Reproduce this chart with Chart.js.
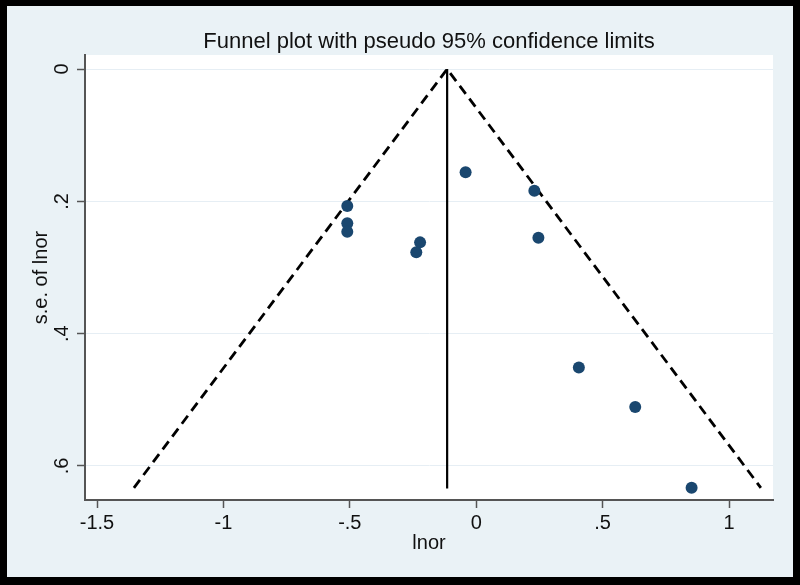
<!DOCTYPE html>
<html>
<head>
<meta charset="utf-8">
<script src="https://cdn.jsdelivr.net/npm/chart.js@4"></script>
<style>
  html, body { margin: 0; padding: 0; background: #000; }
  canvas { display: block; }
</style>
</head>
<body>
<canvas id="c" width="800" height="585"></canvas>
<script>
// ---- data ----
const chartTitle = "Funnel plot with pseudo 95% confidence limits";
const xTitle = "lnor";
const yTitle = "s.e. of lnor";

const lnor   = [-0.042, 0.230, 0.246, -0.510, -0.510, -0.510, -0.222, -0.237, 0.406, 0.629, 0.852];
const seLnor = [ 0.156, 0.184, 0.255,  0.207,  0.233,  0.246,  0.262,  0.277, 0.451, 0.511, 0.633];

// pseudo 95% confidence limits (left end, apex, right end)
const limitX = [-1.354, -0.115, 1.126];
const limitY = [ 0.633,  0.000, 0.633];

// pooled estimate line
const centerX = [-0.115, -0.115];
const centerY = [ 0.000,  0.634];

const xTicks = [-1.5, -1, -0.5, 0, 0.5, 1];
const xTickLabels = ["-1.5", "-1", "-.5", "0", ".5", "1"];
const yTicks = [0, 0.2, 0.4, 0.6];
const yTickLabels = ["0", ".2", ".4", ".6"];

const toPts = (xs, ys) => xs.map((x, i) => ({ x: x, y: ys[i] }));

const FONT = "'Liberation Sans', Arial, Helvetica, sans-serif";

const bgPlugin = {
  id: 'bg',
  beforeDraw(chart) {
    const ctx = chart.ctx;
    const a = chart.chartArea;
    ctx.save();
    ctx.fillStyle = '#000000';
    ctx.fillRect(0, 0, chart.width, chart.height);
    ctx.fillStyle = '#eaf2f6';
    ctx.fillRect(7, 6, 786, 571);
    ctx.fillStyle = '#ffffff';
    ctx.fillRect(a.left, a.top, a.right - a.left, a.bottom - a.top);
    ctx.restore();
  },
  afterDraw(chart) {
    const ctx = chart.ctx;
    const a = chart.chartArea;
    ctx.save();
    ctx.fillStyle = '#111111';
    ctx.font = "22px " + FONT;
    ctx.textAlign = 'center';
    ctx.textBaseline = 'middle';
    ctx.fillText(chartTitle, (a.left + a.right) / 2, 42);
    ctx.restore();
  }
};

new Chart(document.getElementById('c'), {
  type: 'scatter',
  data: {
    datasets: [
      {
        data: toPts(lnor, seLnor),
        showLine: false,
        pointRadius: 6,
        pointHoverRadius: 6,
        pointBackgroundColor: '#1a476f',
        pointBorderWidth: 0,
        order: 0
      },
      {
        data: toPts(limitX, limitY),
        showLine: true,
        borderColor: '#000000',
        borderWidth: 2.8,
        borderDash: [10, 6],
        pointRadius: 0,
        fill: false,
        order: 1
      },
      {
        data: toPts(centerX, centerY),
        showLine: true,
        borderColor: '#000000',
        borderWidth: 2.2,
        pointRadius: 0,
        fill: false,
        order: 1
      }
    ]
  },
  options: {
    responsive: false,
    animation: false,
    layout: { padding: { top: 55, left: 7, right: 27, bottom: 8 } },
    plugins: {
      legend: { display: false },
      tooltip: { enabled: false },
      title: { display: false }
    },
    scales: {
      x: {
        type: 'linear',
        min: -1.5475,
        max: 1.174,
        afterFit(axis) { axis.height = 77; },
        afterBuildTicks(axis) { axis.ticks = xTicks.map(v => ({ value: v })); },
        ticks: {
          autoSkip: false,
          maxRotation: 0,
          color: '#111111',
          font: { family: FONT, size: 20 },
          padding: 3,
          callback: (v, i) => xTickLabels[i]
        },
        grid: {
          drawOnChartArea: false,
          drawTicks: true,
          tickLength: 8,
          tickColor: '#555555',
          tickWidth: 1.5
        },
        border: { display: true, color: '#555555', width: 2 },
        title: {
          display: true,
          text: xTitle,
          color: '#111111',
          font: { family: FONT, size: 20 },
          padding: { top: 0, bottom: 22 }
        }
      },
      y: {
        type: 'linear',
        reverse: true,
        min: -0.0212,
        max: 0.6514,
        afterFit(axis) { axis.width = 78; },
        afterBuildTicks(axis) { axis.ticks = yTicks.map(v => ({ value: v })); },
        ticks: {
          autoSkip: false,
          minRotation: 90,
          maxRotation: 90,
          crossAlign: 'center',
          color: '#111111',
          font: { family: FONT, size: 20 },
          padding: 6,
          callback: (v, i) => yTickLabels[i]
        },
        grid: {
          drawOnChartArea: true,
          color: '#e6eef4',
          lineWidth: 1,
          drawTicks: true,
          tickLength: 8,
          tickColor: '#555555',
          tickWidth: 1.5
        },
        border: { display: true, color: '#555555', width: 2 },
        title: {
          display: true,
          text: yTitle,
          color: '#111111',
          font: { family: FONT, size: 20 },
          padding: { top: 22, bottom: 0 }
        }
      }
    }
  },
  plugins: [bgPlugin]
});
</script>
</body>
</html>
